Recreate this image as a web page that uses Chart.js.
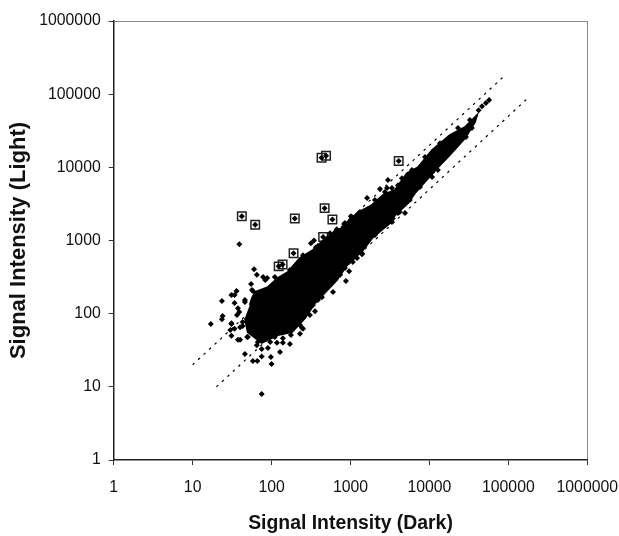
<!DOCTYPE html>
<html>
<head>
<meta charset="utf-8">
<title>Signal Intensity</title>
<style>
    html, body { margin: 0; padding: 0; background: #fff; }
    canvas { display: block; }
</style>
<script src="https://cdn.jsdelivr.net/npm/chart.js@4"></script>
</head>
<body>
<canvas id="chart" width="619" height="536"></canvas>
<script>
    const tickValues = [1, 10, 100, 1000, 10000, 100000, 1000000];

    // outline of the solid part of the cloud (too dense to pick single spots)
    const coreDark = [53, 56.5, 62, 90, 120, 161, 229, 334, 502, 802, 1210, 1870, 2580, 3650, 5190, 7150, 10800, 18200, 28200, 40000,
        37700, 28200, 17100, 12800, 8700, 6550, 5350, 3650, 3160, 1920, 1440, 900, 670, 355, 265, 181, 120, 75, 50, 46];
    const coreLight = [131, 163, 197, 231, 307, 370, 575, 740, 1110, 1520, 2370, 3050, 4180, 4900, 8300, 10000, 17200, 27500, 35400, 51700,
        41500, 25100, 13800, 10000, 6290, 4440, 3240, 2220, 1730, 1110, 740, 460, 288, 140, 87, 56, 51, 40, 56, 87];

    // single spots around the cloud
    const looseDark = [60, 65, 78, 88, 55, 58, 36, 34, 23.5, 46, 34, 39, 24, 23.5, 17, 31, 43, 34, 31, 40, 49, 65, 75, 75, 90, 117, 139, 171,
        128, 229, 250, 98, 46, 58, 66, 100, 75, 306, 355, 39, 315, 345, 387, 670, 830, 1010, 1320, 1620, 2360, 2900, 2980,
        10800, 12800, 960, 875, 600, 435, 1400, 4900, 3450, 29000, 42000, 52000, 57000, 46300];
    const looseLight = [405, 340, 317, 307, 254, 204, 204, 180, 149, 144, 140, 105, 93, 84, 72, 72, 68, 62, 50, 44, 48, 37, 33, 26, 34, 40, 40, 38.5,
        30, 53, 62, 25.5, 28, 22.5, 22.5, 20.5, 8, 123, 108, 890, 920, 1000, 840, 1430, 1680, 2150, 2450, 3800, 5050, 5200, 6700,
        7400, 9200, 380, 280, 197, 168, 650, 2370, 2000, 26000, 60500, 75500, 83000, 68500];

    // spots that make the rough rim of the cloud
    const rimDark = [56.5, 83, 110, 171, 198, 281, 250, 365, 435, 550, 850, 1040, 2040, 3350, 4480, 6000, 8800, 13600, 23000, 32600,
        34500, 21000, 15700, 10800, 7600, 5650, 4000, 3350, 2040, 1400, 1070, 740, 520, 387, 334, 242, 210, 176, 139, 110, 96, 67, 50, 37.5, 40, 43, 36.5, 37.5, 46, 31, 31, 30,
        2730, 4000, 4200, 2730, 635, 1000, 850, 580, 1210, 306, 229];
    const rimLight = [210, 288, 317, 394, 447, 575, 630, 810, 920, 1260, 1730, 2090, 3570, 5200, 7100, 9200, 13800, 21400, 34400, 44200,
        34400, 19000, 14700, 8600, 5400, 3570, 2370, 1790, 1190, 670, 510, 340, 231, 154, 131, 64, 82, 51, 46, 48, 41, 41, 48, 44, 65, 77, 96, 119, 154, 180, 74, 60,
        4600, 5700, 2450, 1620, 1300, 1900, 420, 270, 575, 96, 70];

    // boxed genes
    const boxedDark = [42, 62, 197, 470, 590, 450, 190, 430, 490, 4080, 123, 138];
    const boxedLight = [2140, 1640, 2000, 2770, 1940, 1120, 670, 13500, 14400, 12200, 443, 470];

    // two fold lines
    const upperDark = [10, 91000];
    const upperLight = [20, 182000];
    const lowerDark = [20, 180000];
    const lowerLight = [10, 90000];

    const toPoints = (xs, ys) => xs.map((x, i) => ({ x: x, y: ys[i] }));
    const fontFamily = '"Liberation Sans", Arial, sans-serif';

    const logAxis = (titleText, titleSize, titlePadding, tickPadding) => ({
        type: 'logarithmic',
        min: 1,
        max: 1000000,
        afterBuildTicks: scale => { scale.ticks = tickValues.map(v => ({ value: v })); },
        border: { display: true, color: '#222', width: 1.5 },
        grid: {
            color: ctx => (ctx.tick && ctx.tick.value === 1000000) ? '#888' : 'rgba(0,0,0,0)',
            tickColor: '#333',
            tickLength: 5,
            lineWidth: 1
        },
        ticks: {
            color: '#111',
            font: { family: fontFamily, size: 15.8 },
            padding: tickPadding,
            maxRotation: 0,
            autoSkip: false,
            callback: v => String(v)
        },
        title: {
            display: true,
            text: titleText,
            color: '#111',
            font: { family: fontFamily, size: titleSize, weight: 'bold' },
            padding: titlePadding
        }
    });

    const xAxis = logAxis('Signal Intensity (Dark)', 19.4, { top: 12, bottom: 1 }, 13);
    xAxis.afterFit = scale => { scale.height = 76; scale.paddingLeft = 0; scale.paddingRight = 0; };
    const yAxis = logAxis('Signal Intensity (Light)', 22, { top: 6, bottom: 0 }, 8);
    yAxis.afterFit = scale => { scale.width = 113.7; scale.paddingTop = 0; scale.paddingBottom = 0; };

    new Chart(document.getElementById('chart').getContext('2d'), {
        type: 'scatter',
        data: {
            datasets: [
                {
                    label: 'Cloud',
                    data: toPoints(coreDark, coreLight),
                    showLine: true,
                    fill: 'shape',
                    backgroundColor: '#000',
                    borderColor: '#000',
                    borderWidth: 2,
                    pointRadius: 0,
                    tension: 0
                },
                {
                    label: 'Genes',
                    data: toPoints(looseDark, looseLight).concat(toPoints(rimDark, rimLight), toPoints(boxedDark, boxedLight)),
                    pointStyle: 'rectRot',
                    pointRadius: 3,
                    borderWidth: 0,
                    backgroundColor: '#000'
                },
                {
                    label: 'Boxed',
                    data: toPoints(boxedDark, boxedLight),
                    pointStyle: 'rect',
                    pointRadius: 6,
                    borderWidth: 1.5,
                    borderColor: '#222',
                    backgroundColor: 'rgba(0,0,0,0)'
                },
                {
                    label: '2x',
                    data: toPoints(upperDark, upperLight),
                    showLine: true,
                    pointRadius: 0,
                    borderColor: '#000',
                    borderWidth: 1.2,
                    borderDash: [2.5, 5]
                },
                {
                    label: '0.5x',
                    data: toPoints(lowerDark, lowerLight),
                    showLine: true,
                    pointRadius: 0,
                    borderColor: '#000',
                    borderWidth: 1.2,
                    borderDash: [2.5, 5]
                }
            ]
        },
        options: {
            responsive: false,
            animation: false,
            layout: { padding: { left: 0, top: 21, right: 31.7, bottom: 0 } },
            plugins: { legend: { display: false }, tooltip: { enabled: false } },
            scales: { x: xAxis, y: yAxis }
        }
    });
</script>
</body>
</html>
